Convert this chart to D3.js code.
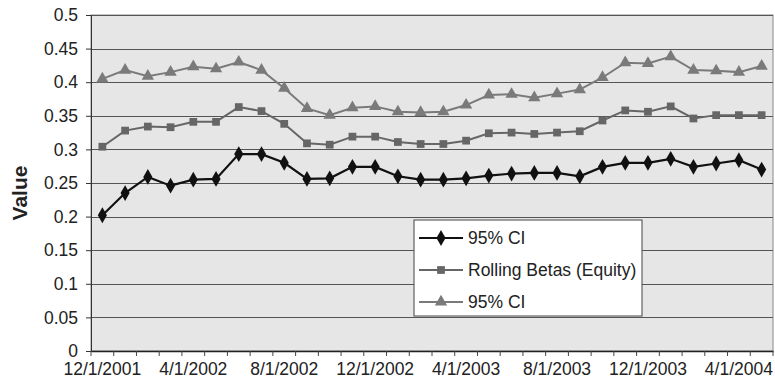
<!DOCTYPE html>
<html>
<head>
<meta charset="utf-8">
<script src="https://cdn.jsdelivr.net/npm/d3@7"></script>
<style>
  body { margin: 0; background: #fff; }
  text { font-family: "Liberation Sans", Arial, sans-serif; fill: #222; }
</style>
</head>
<body>
<div id="chart"></div>
<script>
// categories (monthly)
const months = [
    "12/1/2001", "1/1/2002", "2/1/2002", "3/1/2002", "4/1/2002", "5/1/2002",
    "6/1/2002", "7/1/2002", "8/1/2002", "9/1/2002", "10/1/2002", "11/1/2002",
    "12/1/2002", "1/1/2003", "2/1/2003", "3/1/2003", "4/1/2003", "5/1/2003",
    "6/1/2003", "7/1/2003", "8/1/2003", "9/1/2003", "10/1/2003", "11/1/2003",
    "12/1/2003", "1/1/2004", "2/1/2004", "3/1/2004", "4/1/2004", "5/1/2004"
];
const xTickLabels = ["12/1/2001", "4/1/2002", "8/1/2002", "12/1/2002", "4/1/2003", "8/1/2003", "12/1/2003", "4/1/2004"];
const yTicks = [0, 0.05, 0.1, 0.15, 0.2, 0.25, 0.3, 0.35, 0.4, 0.45, 0.5];

const lowerCI = [0.202, 0.235, 0.259, 0.246, 0.255, 0.256, 0.293, 0.293, 0.280, 0.256,
                 0.257, 0.274, 0.274, 0.260, 0.255, 0.255, 0.257, 0.261, 0.264, 0.265,
                 0.265, 0.260, 0.274, 0.280, 0.280, 0.286, 0.274, 0.279, 0.284, 0.270];
const rollingBetas = [0.304, 0.328, 0.334, 0.333, 0.341, 0.341, 0.363, 0.357, 0.338, 0.309,
                      0.307, 0.319, 0.319, 0.311, 0.308, 0.308, 0.313, 0.324, 0.325, 0.323,
                      0.325, 0.327, 0.343, 0.358, 0.356, 0.364, 0.346, 0.351, 0.351, 0.351];
const upperCI = [0.405, 0.418, 0.409, 0.415, 0.423, 0.420, 0.430, 0.418, 0.391, 0.361,
                 0.351, 0.362, 0.364, 0.356, 0.355, 0.356, 0.366, 0.381, 0.382, 0.377,
                 0.383, 0.389, 0.407, 0.429, 0.428, 0.438, 0.418, 0.417, 0.415, 0.424];

const series = [
    { name: "95% CI", values: lowerCI, color: "#111", width: 2.2, symbol: d3.symbolDiamond, size: 72 },
    { name: "Rolling Betas (Equity)", values: rollingBetas, color: "#666", width: 2, symbol: d3.symbolSquare, size: 60 },
    { name: "95% CI", values: upperCI, color: "#7a7a7a", width: 2, symbol: d3.symbolTriangle, size: 66 }
];

const W = 775, H = 389;
const plot = { left: 91, right: 773, top: 15, bottom: 351 };

const svg = d3.select("#chart").append("svg")
    .attr("width", W)
    .attr("height", H);

const x = d3.scaleBand()
    .domain(months)
    .range([plot.left, plot.right])
    .padding(0);

const y = d3.scaleLinear()
    .domain([0, 0.5])
    .range([plot.bottom, plot.top]);

const cx = m => x(m) + x.bandwidth() / 2;

// plot area background
svg.append("rect")
    .attr("x", plot.left)
    .attr("y", plot.top)
    .attr("width", plot.right - plot.left)
    .attr("height", plot.bottom - plot.top)
    .attr("fill", "#e6e6e6")
    .attr("stroke", "#888")
    .attr("stroke-width", 1);

// gridlines
svg.append("g")
    .selectAll("line")
    .data(yTicks.filter(d => d > 0))
    .enter()
    .append("line")
    .attr("x1", plot.left)
    .attr("x2", plot.right)
    .attr("y1", d => Math.round(y(d)) + 0.5)
    .attr("y2", d => Math.round(y(d)) + 0.5)
    .attr("stroke", "#555")
    .attr("stroke-width", 1);

// Y axis
const yAxis = svg.append("g")
    .attr("transform", `translate(${plot.left},0)`)
    .call(d3.axisLeft(y).tickValues(yTicks).tickSize(5).tickPadding(8)
        .tickFormat(d => String(+d.toFixed(2))));
yAxis.select(".domain").attr("stroke", "#333");
yAxis.selectAll(".tick line").attr("stroke", "#333");
yAxis.selectAll("text")
    .style("font-size", "17.5px")
    .attr("fill", "#222");

// X axis
const xAxis = svg.append("g")
    .attr("transform", `translate(0,${plot.bottom})`)
    .call(d3.axisBottom(x).tickValues(xTickLabels).tickSize(0).tickPadding(12));
xAxis.select(".domain").attr("stroke", "#222").attr("stroke-width", 1.5);
xAxis.selectAll("text")
    .style("font-size", "17.5px")
    .attr("fill", "#222");

// tick marks between categories
xAxis.selectAll(".cat-tick")
    .data(months.concat([null]))
    .enter()
    .append("line")
    .attr("class", "cat-tick")
    .attr("x1", d => d ? x(d) : plot.right)
    .attr("x2", d => d ? x(d) : plot.right)
    .attr("y1", 0)
    .attr("y2", 5)
    .attr("stroke", "#444");

// axis title
svg.append("text")
    .attr("transform", `translate(27,${(plot.top + plot.bottom) / 2 + 10}) rotate(-90)`)
    .attr("text-anchor", "middle")
    .style("font-size", "21px")
    .style("font-weight", "bold")
    .text("Value");

// lines and markers
const line = d3.line()
    .x((d, i) => cx(months[i]))
    .y(d => y(d));

series.slice().reverse().forEach(s => {
    svg.append("path")
        .datum(s.values)
        .attr("fill", "none")
        .attr("stroke", s.color)
        .attr("stroke-width", s.width)
        .attr("d", line);

    svg.append("g")
        .selectAll("path")
        .data(s.values)
        .enter()
        .append("path")
        .attr("transform", (d, i) => `translate(${cx(months[i])},${y(d)})`)
        .attr("d", d3.symbol().type(s.symbol).size(s.size))
        .attr("fill", s.color);
});

// legend
const legend = svg.append("g")
    .attr("transform", "translate(414,220)");

legend.append("rect")
    .attr("x", 0)
    .attr("y", 0)
    .attr("width", 228)
    .attr("height", 96)
    .attr("fill", "#fff")
    .attr("stroke", "#444")
    .attr("stroke-width", 1);

series.forEach((s, i) => {
    const ly = 18 + i * 32;
    legend.append("line")
        .attr("x1", 5)
        .attr("x2", 49)
        .attr("y1", ly)
        .attr("y2", ly)
        .attr("stroke", s.color)
        .attr("stroke-width", s.width);
    legend.append("path")
        .attr("transform", `translate(27,${ly})`)
        .attr("d", d3.symbol().type(s.symbol).size(s.size))
        .attr("fill", s.color);
    legend.append("text")
        .attr("x", 54)
        .attr("y", ly)
        .attr("dy", "0.35em")
        .style("font-size", "17.5px")
        .text(s.name);
});
</script>
</body>
</html>
